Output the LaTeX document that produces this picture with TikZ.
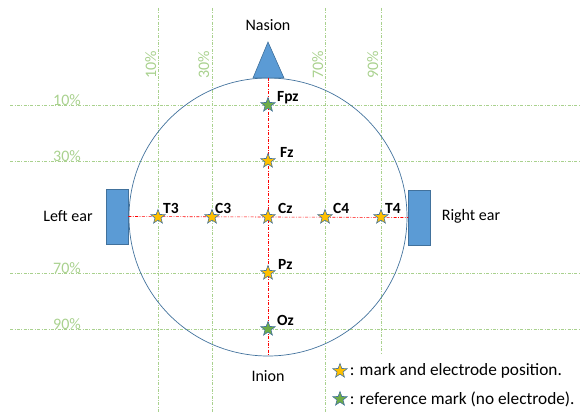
\documentclass[tikz,border=0pt]{standalone}
\usepackage{fontspec}
\setmainfont{Carlito}
\usetikzlibrary{positioning, shapes.geometric}

\definecolor{gridgreen}{HTML}{A9D18E}
\definecolor{headblue}{HTML}{41719C}
\definecolor{earblue}{HTML}{5B9BD5}
\definecolor{markyellow}{HTML}{FFC000}
\definecolor{refgreen}{HTML}{70AD47}

\begin{document}
\begin{tikzpicture}[x=1pt, y=-1pt, font=\fontsize{16}{19}\selectfont,
    grid/.style={gridgreen, line width=0.6pt, dash pattern=on 3pt off 1.5pt on 0.8pt off 1.5pt},
    midline/.style={red, line width=0.6pt, dash pattern=on 3pt off 1.5pt on 0.8pt off 1.5pt},
    pct/.style={gridgreen, inner sep=0pt, anchor=base},
    elec/.style={star, star points=5, star point ratio=2.4, draw=headblue, line width=0.6pt, fill=markyellow, minimum size=15pt, inner sep=0pt},
    refmark/.style={elec, fill=refgreen},
    lbl/.style={font=\fontsize{15.5}{18}\selectfont\bfseries, inner sep=0pt, anchor=base west},
    keytext/.style={font=\fontsize{17.3}{20}\selectfont, inner sep=0pt},
    ear/.style={draw=headblue, fill=earblue, line width=0.6pt, minimum width=22pt, minimum height=55pt, inner sep=0pt}]
  \useasboundingbox (0,0) rectangle (581,412);

  % percentage grid
  \foreach \x/\b/\p in {158/156/10, 212/209/30, 325/323/70} {
    \draw[grid] (\x,8) -- (\x,412);
    \node[pct, rotate=90] at (\b,65) {\p\%};
  }
  \draw[grid] (381,8) -- (381,353);
  \node[pct, rotate=90] at (378,65) {90\%};
  \foreach \y/\p in {105/10, 161/30, 273/70, 329/90} {
    \draw[grid] (10,\y) -- (581,\y);
    \node[pct] at (67,\y) {\p\%};
  }

  % head, nose and ears
  \node[circle, draw=headblue, line width=0.7pt, minimum size=278pt, inner sep=0pt] (head) at (268,217) {};
  \draw[draw=headblue, fill=earblue, line width=0.6pt] (253,78) -- (268,42) -- (284,78) -- cycle;
  \node[anchor=base] (nasion) at (268,31) {Nasion};
  \node[anchor=base] (inion) at (268,381) {Inion};
  \node[ear] (lear) at (117,216.5) {};
  \node[ear] (rear) at (419.5,217.5) {};
  \node (leftlbl) at (68,216) {Left ear};
  \node (rightlbl) at (471,216) {Right ear};

  % midlines
  \draw[midline] (head.north) -- (head.south);
  \draw[midline] (lear.east) -- (rear.west);

  % electrodes
  \foreach \n/\x/\y/\s/\dx in {T3/158/217/elec/5, C3/212/217/elec/3, Cz/268/217/elec/10,
      C4/325/217/elec/8, T4/381/217/elec/4, Fpz/268/105/refmark/9, Fz/268/161/elec/12,
      Pz/268/273/elec/10, Oz/268/329/refmark/9} {
    \node[\s] (\n) at (\x,\y) {};
    \node[lbl] (\n-lbl) at ([xshift=\dx pt, yshift=4pt]\n.center) {\n};
  }

  % key
  \node[elec] (key1) at (340,371) {};
  \node[refmark] (key2) at (340,399) {};
  \node[keytext, right=5pt of key1] (key1txt) {: mark and electrode position.};
  \node[keytext, right=5pt of key2] (key2txt) {: reference mark (no electrode).};
\end{tikzpicture}
\end{document}
